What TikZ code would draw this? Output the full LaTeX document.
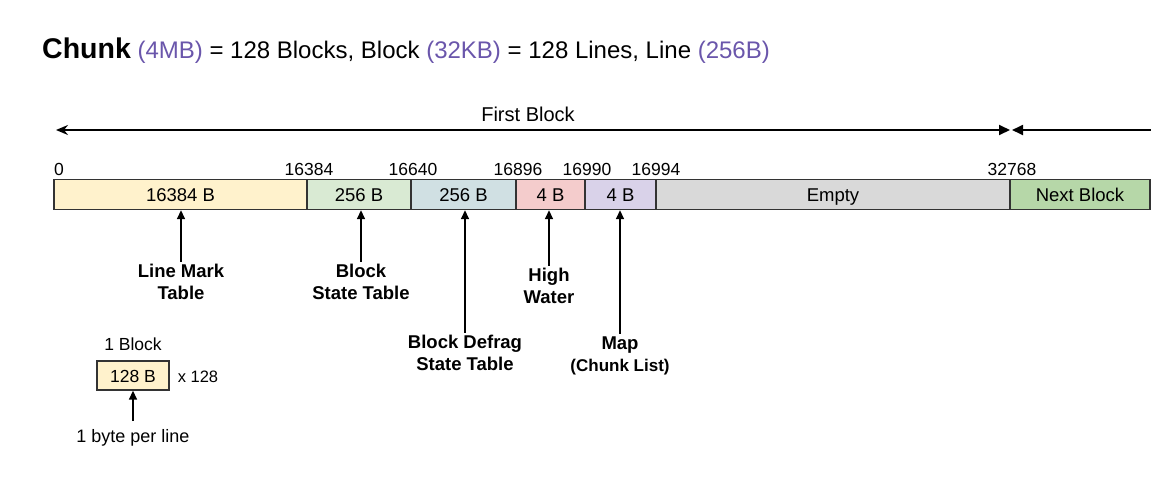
\documentclass[tikz,border=0pt]{standalone}
\usepackage{fontspec}
\setmainfont{Liberation Sans}
\usetikzlibrary{arrows.meta}
\definecolor{purp}{HTML}{6A56AB}
\definecolor{cA}{HTML}{FFF2CC}
\definecolor{cB}{HTML}{D9EAD3}
\definecolor{cC}{HTML}{D0E0E3}
\definecolor{cD}{HTML}{F4CCCC}
\definecolor{cE}{HTML}{D9D2E9}
\definecolor{cF}{HTML}{D9D9D9}
\definecolor{cG}{HTML}{B6D7A8}
\definecolor{edge}{HTML}{333333}
\tikzset{
  seg/.style={draw=edge, line width=1.4pt, minimum height=30pt, inner sep=0pt, text height=18pt, text depth=4pt, font=\fontsize{18.5}{20}\selectfont},
  num/.style={anchor=base, inner sep=0pt, font=\fontsize{17.5}{20}\selectfont},
  lbl/.style={align=center, anchor=north, inner sep=0pt, outer sep=3pt, font=\bfseries\fontsize{18.5}{22}\selectfont},
  up/.style={-{Triangle[length=9pt,width=8pt]}, line width=1.6pt},
  plain/.style={inner sep=0pt, font=\fontsize{17.5}{20}\selectfont}
}
\begin{document}
\begin{tikzpicture}[x=1pt,y=-1pt]
\useasboundingbox (0,0) rectangle (1151,501);
% title
\node[anchor=base west, inner sep=0pt, font=\fontsize{24}{28}\selectfont] (title) at (42,58)
 {{\bfseries\fontsize{28.5}{32}\selectfont Chunk} {\color{purp}(4MB)} = 128 Blocks, Block {\color{purp}(32KB)} = 128 Lines, Line {\color{purp}(256B)}};
% first block arrow
\node[inner sep=0pt, font=\fontsize{20}{24}\selectfont] (fb) at (528,114) {First Block};
\coordinate (fbL) at (56,130);
\coordinate (fbR) at (1010,130);
\coordinate (nbL) at (1012,130);
\coordinate (nbR) at (1152,130);
\draw[line width=1.8pt, {Stealth[length=12pt,width=10pt,inset=4pt]}-{Triangle[length=11pt,width=10pt]}] (fbL) -- (fbR);
\draw[line width=1.8pt, -{Triangle[length=11pt,width=10pt]}] (nbR) -- (nbL);
% bar segments
\node[seg, fill=cA, minimum width=253pt] (s1) at (180.5,194.5) {16384 B};
\node[seg, fill=cB, minimum width=104pt] (s2) at (359,194.5) {256 B};
\node[seg, fill=cC, minimum width=105pt] (s3) at (463.5,194.5) {256 B};
\node[seg, fill=cD, minimum width=69pt] (s4) at (550.5,194.5) {4 B};
\node[seg, fill=cE, minimum width=71pt] (s5) at (620.5,194.5) {4 B};
\node[seg, fill=cF, minimum width=354pt] (s6) at (833,194.5) {Empty};
\node[seg, fill=cG, minimum width=140pt] (s7) at (1080,194.5) {Next Block};
% offsets
\node[num, anchor=base west] (n0) at (54,175) {0};
\node[num] (n1) at (309,175) {16384};
\node[num] (n2) at (413,175) {16640};
\node[num] (n3) at (518,175) {16896};
\node[num] (n4) at (587,175) {16990};
\node[num] (n5) at (656,175) {16994};
\node[num] (n6) at (1012,175) {32768};
% labels
\node[lbl] (l1) at (181,261.5) {Line Mark\\Table};
\node[lbl] (l2) at (361,261.5) {Block\\State Table};
\node[lbl] (l3) at (465,332.5) {Block Defrag\\State Table};
\node[lbl] (l4) at (549,265.5) {High\\Water};
\node[lbl] (l5) at (620,333.5) {Map\\{\fontsize{17}{20}\selectfont(Chunk List)}};
\draw[up] (l1.north) -- (l1.north |- s1.south);
\draw[up] (l2.north) -- (l2.north |- s2.south);
\draw[up] (l3.north) -- (l3.north |- s3.south);
\draw[up] (l4.north) -- (l4.north |- s4.south);
\draw[up] (l5.north) -- (l5.north |- s5.south);
% small block
\node[plain] (ob) at (133,344) {1 Block};
\node[seg, fill=cA, minimum width=72pt, minimum height=29pt, text height=17pt, text depth=4pt, font=\fontsize{17.5}{20}\selectfont] (sb) at (133,375.5) {128 B};
\node[plain, font=\fontsize{16.5}{20}\selectfont] (x128) at (198,377) {x 128};
\node[plain, font=\fontsize{18}{20}\selectfont] (bpl) at (133,438) {1 byte per line};
\coordinate (bpa) at (133,421);
\draw[up] (bpa) -- (sb.south);
\end{tikzpicture}
\end{document}
